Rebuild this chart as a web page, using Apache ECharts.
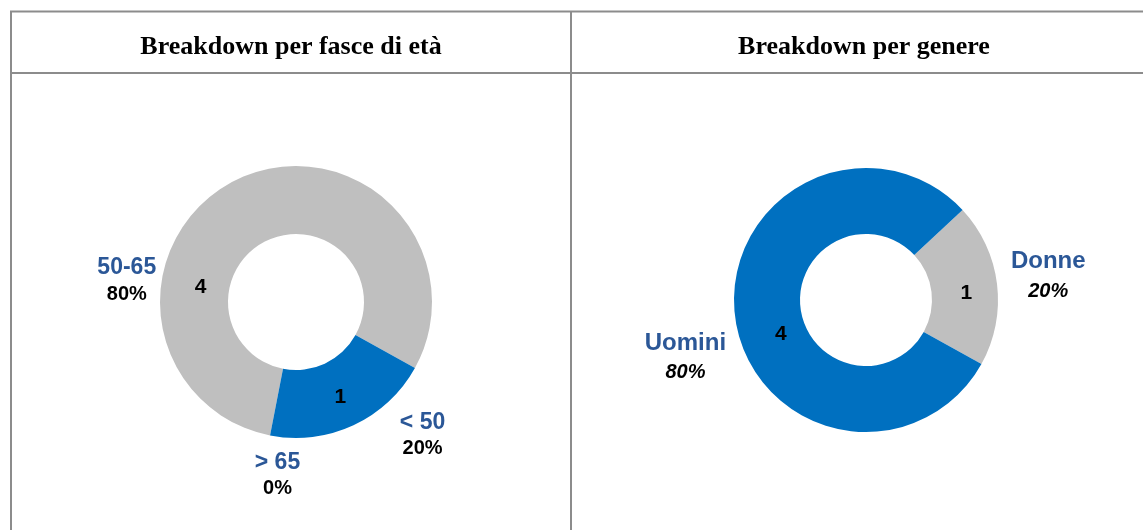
<!DOCTYPE html>
<html>
<head>
<meta charset="utf-8">
<script src="https://cdn.jsdelivr.net/npm/echarts@6/dist/echarts.min.js"></script>
<style>
  html, body { margin: 0; padding: 0; background: #fff; }
  #main { width: 1143px; height: 530px; }
</style>
</head>
<body>
<div id="main"></div>
<script>
// data
const ageNames = ['50-65', '< 50', '> 65']
const ageValues = [4, 1, 0]
const genderNames = ['Donne', 'Uomini']
const genderValues = [1, 4]
const titleTexts = ['Breakdown per fasce di età', 'Breakdown per genere']

const GRAY = '#BFBFBF'
const BLUE = '#0070C0'
const NAME_BLUE = '#2B5797'
const LINE = '#8C8C8C'

const toData = (names, values) => names.map((n, i) => ({ name: n, value: values[i] }))

// label nudges (px) per series index and data index - the labels in the
// original were dragged by hand, so they sit off the slice midpoints
const nudges = {
  '0_0': [-51, 80],
  '2_1': [16, 22],
  '2_0': [-1, 6],
  '1_0': [-41, 115],
  '1_1': [5, -4],
  '1_2': [68, 24],
  '3_1': [41, 41],
  '3_0': [-36, -5]
}

const labelLayout = (params) => {
  const d = nudges[params.seriesIndex + '_' + params.dataIndex]
  return d ? { dx: d[0], dy: d[1] } : {}
}

const innerSeries = (names, values, center, radius, startAngle, colors) => ({
  type: 'pie',
  center: center,
  radius: radius,
  startAngle: startAngle,
  clockwise: true,
  silent: true,
  color: colors,
  itemStyle: { borderWidth: 0 },
  label: {
    position: 'inside',
    color: '#000',
    fontFamily: 'Liberation Sans',
    fontWeight: 'bold',
    fontSize: 21,
    formatter: (p) => (p.value ? String(p.value) : '')
  },
  labelLine: { show: false },
  labelLayout: labelLayout,
  data: toData(names, values)
})

const outerSeries = (names, values, center, radius, startAngle, italic, nameSize, pctLine) => ({
  type: 'pie',
  center: center,
  radius: radius,
  startAngle: startAngle,
  clockwise: true,
  silent: true,
  itemStyle: { color: 'rgba(0,0,0,0)' },
  label: {
    position: 'outside',
    align: 'center',
    formatter: (p) => '{n|' + p.name + '}\n{p|' + p.percent + '%}',
    rich: {
      n: { color: NAME_BLUE, fontFamily: 'Liberation Sans', fontWeight: 'bold', fontSize: nameSize, lineHeight: 28, align: 'center' },
      p: { color: '#000', fontFamily: 'Liberation Sans', fontWeight: 'bold', fontStyle: italic ? 'italic' : 'normal', fontSize: 20, lineHeight: pctLine, align: 'center' }
    }
  },
  labelLine: { show: false },
  labelLayout: labelLayout,
  data: toData(names, values)
})

const titleStyle = { fontFamily: 'Liberation Serif', fontWeight: 'bold', fontSize: 26, color: '#000' }

const chart = echarts.init(document.getElementById('main'))
chart.setOption({
  animation: false,
  title: [
    { text: titleTexts[0], left: 286, top: 29, textAlign: 'center', textStyle: titleStyle },
    { text: titleTexts[1], left: 859, top: 29, textAlign: 'center', textStyle: titleStyle }
  ],
  graphic: [
    { type: 'line', shape: { x1: 10, y1: 11.5, x2: 1143, y2: 11.5 }, style: { stroke: LINE, lineWidth: 2 } },
    { type: 'line', shape: { x1: 10, y1: 73, x2: 1143, y2: 73 }, style: { stroke: LINE, lineWidth: 2 } },
    { type: 'line', shape: { x1: 11, y1: 11, x2: 11, y2: 530 }, style: { stroke: LINE, lineWidth: 2 } },
    { type: 'line', shape: { x1: 571, y1: 11, x2: 571, y2: 530 }, style: { stroke: LINE, lineWidth: 2 } }
  ],
  series: [
    innerSeries(ageNames, ageValues, [296, 302], [68, 136], 259, [GRAY, BLUE, GRAY]),
    outerSeries(ageNames, ageValues, [296, 302], [68, 136], 259, false, 23, 24),
    innerSeries(genderNames, genderValues, [866, 300], [66, 132], 43, [GRAY, BLUE]),
    outerSeries(genderNames, genderValues, [866, 300], [66, 132], 43, true, 24, 32)
  ]
})
</script>
</body>
</html>
